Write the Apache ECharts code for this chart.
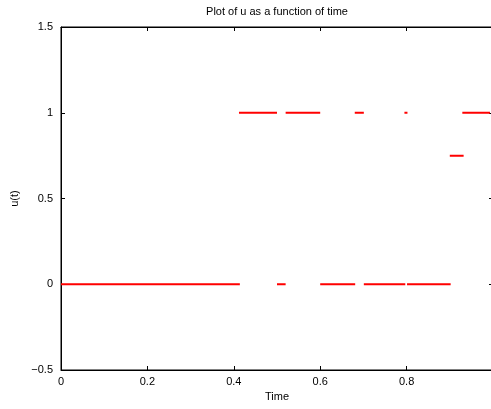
<!DOCTYPE html>
<html>
<head>
<meta charset="utf-8">
<script src="https://cdn.jsdelivr.net/npm/echarts@6/dist/echarts.min.js"></script>
<style>
  html, body { margin: 0; padding: 0; background: #fff; }
  #chart { width: 491px; height: 409px; }
</style>
</head>
<body>
<div id="chart"></div>
<script>
// segments of u(t): start time, end time, value
var segStart = [0, 0.412, 0.500, 0.520, 0.600, 0.680, 0.701, 0.795, 0.801, 0.900, 0.929];
var segEnd   = [0.414, 0.500, 0.520, 0.600, 0.681, 0.701, 0.797, 0.802, 0.902, 0.932, 0.993];
var segValue = [0, 1, 0, 1, 0, 1, 0, 1, 0, 0.75, 1];

var xTicks = [0, 0.2, 0.4, 0.6, 0.8];
var yTicks = [-0.5, 0, 0.5, 1, 1.5];

var chartDom = document.getElementById('chart');
var myChart = echarts.init(chartDom);

// build one line with gaps between segments
var lineData = [];
for (var i = 0; i < segStart.length; i++) {
  if (i > 0) lineData.push([segStart[i], '-']);
  lineData.push([segStart[i], segValue[i]]);
  lineData.push([segEnd[i], segValue[i]]);
}

function fmt(v) {
  return String(v).replace('-', '\u2212');
}

var font = 'Liberation Sans, Arial, sans-serif';
var tickStyle = { show: true, inside: true, length: 4, lineStyle: { color: '#000' } };
var lineStyle = { show: true, onZero: false, lineStyle: { color: '#000' } };

var option = {
  animation: false,
  textStyle: { fontFamily: font },
  graphic: [{
    type: 'text',
    x: 277,
    y: 6,
    style: {
      text: 'Plot of u as a function of time',
      fontFamily: font,
      fontSize: 11,
      fill: '#000',
      textAlign: 'center'
    }
  }],
  grid: {
    left: 61,
    top: 27,
    width: 432,
    height: 343,
    outerBoundsMode: 'none',
    containLabel: false,
    show: true,
    borderColor: '#000',
    borderWidth: 1
  },
  xAxis: [{
    type: 'value',
    min: 0,
    max: 1,
    interval: 0.2,
    name: 'Time',
    nameLocation: 'middle',
    nameGap: 20,
    nameTextStyle: { fontSize: 11, color: '#000', fontFamily: font },
    axisLine: lineStyle,
    axisTick: tickStyle,
    splitLine: { show: false },
    axisLabel: {
      fontSize: 11, color: '#000', margin: 6, fontFamily: font,
      formatter: function (v) { return xTicks.indexOf(v) >= 0 ? fmt(v) : ''; }
    }
  }, {
    type: 'value',
    position: 'top',
    min: 0,
    max: 1,
    interval: 0.2,
    axisLine: lineStyle,
    axisTick: tickStyle,
    axisLabel: { show: false },
    splitLine: { show: false }
  }],
  yAxis: [{
    type: 'value',
    min: -0.5,
    max: 1.5,
    interval: 0.5,
    name: 'u(t)',
    nameLocation: 'middle',
    nameRotate: 90,
    nameGap: 40,
    nameTextStyle: { fontSize: 11, color: '#000', fontFamily: font },
    axisLine: lineStyle,
    axisTick: tickStyle,
    splitLine: { show: false },
    axisLabel: {
      fontSize: 11, color: '#000', margin: 8, fontFamily: font,
      formatter: function (v) { return yTicks.indexOf(v) >= 0 ? fmt(v) : ''; }
    }
  }, {
    type: 'value',
    position: 'right',
    min: -0.5,
    max: 1.5,
    interval: 0.5,
    axisLine: lineStyle,
    axisTick: tickStyle,
    axisLabel: { show: false },
    splitLine: { show: false }
  }],
  series: [{
    type: 'line',
    data: lineData,
    showSymbol: false,
    connectNulls: false,
    lineStyle: { color: '#ff0000', width: 2 },
    clip: false
  }]
};

myChart.setOption(option);
window.addEventListener('resize', () => myChart.resize());
</script>
</body>
</html>
